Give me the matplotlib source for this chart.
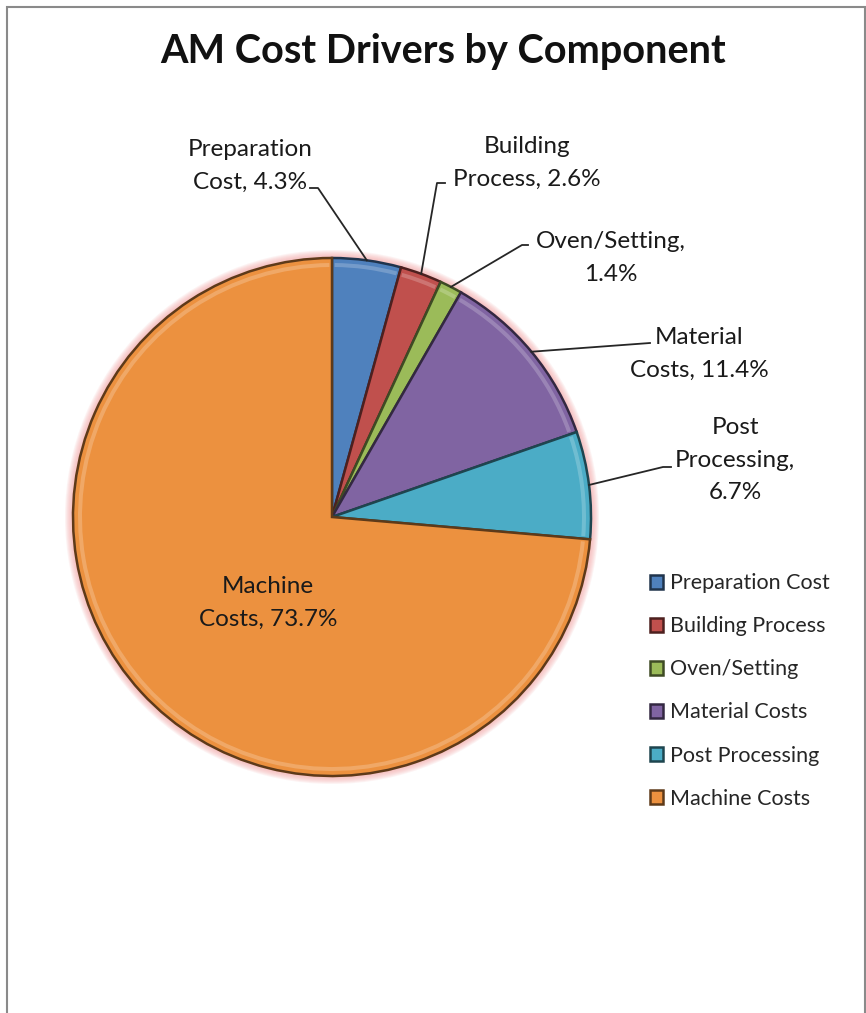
import matplotlib
matplotlib.use("Agg")
import numpy as np
import matplotlib.pyplot as plt
from matplotlib.patches import Circle, Rectangle, Wedge
from matplotlib.colors import to_rgb

plt.rcParams['font.family'] = ['Lato', 'DejaVu Sans']

# Cost shares of the AM components (percent)
components = ["Preparation Cost", "Building Process", "Oven/Setting",
              "Material Costs", "Post Processing", "Machine Costs"]
shares = [4.3, 2.6, 1.4, 11.4, 6.7, 73.7]
label_names = ["Preparation\nCost", "Building\nProcess", "Oven/Setting,\n",
               "Material\nCosts", "Post\nProcessing,\n", "Machine\nCosts"]
colors = ["#4f81bd", "#c0504d", "#9bbb59", "#8064a2", "#4bacc6", "#ec913f"]

W, H = 866, 1013
cx, cy, R = 332, H - 517, 259


def darker(c, f=0.4):
    r, g, b = to_rgb(c)
    return (r * f, g * f, b * f)


def lighter(c, f=0.45):
    r, g, b = to_rgb(c)
    return (r + (1 - r) * f, g + (1 - g) * f, b + (1 - b) * f)


fig = plt.figure(figsize=(W / 100, H / 100), dpi=100)
ax = fig.add_axes([0, 0, 1, 1])

# soft pink halo behind the pie
for k in range(8, 0, -1):
    ax.add_patch(Circle((cx, cy), R + k, color="#f4a0a0", alpha=0.12, lw=0))

wedges, _ = ax.pie(shares, colors=colors, startangle=90, counterclock=False,
                   center=(cx, cy), radius=R,
                   wedgeprops=dict(linewidth=1.8))
for w, c in zip(wedges, colors):
    w.set_edgecolor(darker(c))
    # bevel highlight just inside the rim
    ax.add_patch(Wedge((cx, cy), R - 5, w.theta1 + 0.6, w.theta2 - 0.6,
                       width=4, facecolor=lighter(c, 0.35), edgecolor="none",
                       alpha=0.6))

# data labels: text block position and leader elbow/end points in pixels
label_pos = [(250, 166), (527, 163), (611, 258), (699, 354), (735, 460), (268, 603)]
leaders = [[(318, 188), (310, 188)],
           [(437, 183), (445, 183)],
           [(522, 245), (528, 245)],
           [(650, 343)],
           [(663, 467), (671, 467)],
           None]

for w, name, val, pos, lead in zip(wedges, label_names, shares, label_pos, leaders):
    if name.endswith("\n"):
        text = f"{name}{val}%"
    else:
        text = f"{name}, {val}%"
    ax.text(pos[0], H - pos[1], text, ha="center", va="center",
            fontsize=17.5, color="#1a1a1a", linespacing=1.65)
    if lead is None:
        continue
    mid = np.deg2rad((w.theta1 + w.theta2) / 2)
    xs = [cx + R * np.cos(mid)] + [p[0] for p in lead]
    ys = [cy + R * np.sin(mid)] + [H - p[1] for p in lead]
    ax.plot(xs, ys, color="#262626", lw=1.3)

ax.set_xlim(0, W)
ax.set_ylim(0, H)
ax.set_aspect("equal")
ax.axis("off")

fig.text(443 / W, 1 - 52 / H, "AM Cost Drivers by Component", ha="center",
         va="center", fontsize=28.5, fontweight="bold", color="#111111")

leg = ax.legend(wedges, components, loc="upper left",
                bbox_to_anchor=(631 / W, 1 - 554 / H), frameon=False,
                fontsize=15.5, handlelength=0.6, handleheight=0.6,
                handletextpad=0.3, labelspacing=1.07, labelcolor="#262626")

# chart frame
fig.patches.append(Rectangle((7 / W, -0.05), 858 / W, 1.05 - 7 / H,
                             transform=fig.transFigure, fill=False,
                             edgecolor="#8a8a8a", lw=1.5))

fig.savefig("out.png", dpi=100, facecolor="white")
